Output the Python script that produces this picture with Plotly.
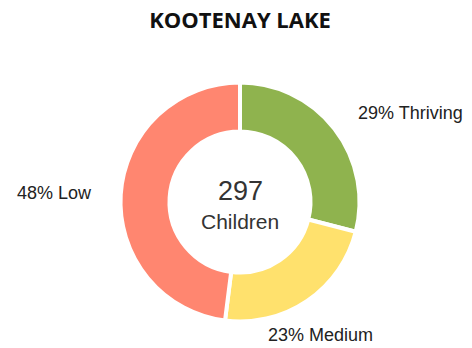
import plotly.graph_objects as go

# Developmental outcome categories for Kootenay Lake
categories = ["Thriving", "Medium", "Low"]
percentages = [29, 23, 48]
colors = ["#8FB34E", "#FFE16D", "#FF8670"]
total_children = 297
title_text = "KOOTENAY LAKE"

# Label anchor points (paper coords) for each slice label
label_pos = {
    "Thriving": (410 / 472, 1 - 113 / 348),
    "Medium": (320 / 472, 1 - 335 / 348),
    "Low": (54 / 472, 1 - 193 / 348),
}

W, H = 472, 348
cx, cy, R = 240, 202, 119.5

fig = go.Figure(
    go.Pie(
        labels=categories,
        values=percentages,
        marker=dict(colors=colors, line=dict(color="white", width=4)),
        hole=0.59,
        sort=False,
        direction="clockwise",
        rotation=0,
        textinfo="none",
        hoverinfo="label+value",
        showlegend=False,
        domain=dict(
            x=[(cx - R) / W, (cx + R) / W],
            y=[1 - (cy + R) / H, 1 - (cy - R) / H],
        ),
    )
)

annotations = []
for cat, pct in zip(categories, percentages):
    x, y = label_pos[cat]
    annotations.append(dict(
        x=x, y=y, xref="paper", yref="paper",
        text=f"{pct}% {cat}", showarrow=False,
        font=dict(family="Liberation Sans, Arial, sans-serif", size=18, color="#222"),
        xanchor="center", yanchor="middle",
    ))

annotations.append(dict(
    x=cx / W, y=1 - 191 / H, xref="paper", yref="paper",
    text=str(total_children), showarrow=False,
    font=dict(family="Liberation Sans, Arial, sans-serif", size=27, color="#333"),
    xanchor="center", yanchor="middle",
))
annotations.append(dict(
    x=cx / W, y=1 - 221 / H, xref="paper", yref="paper",
    text="Children", showarrow=False,
    font=dict(family="Liberation Sans, Arial, sans-serif", size=21, color="#333"),
    xanchor="center", yanchor="middle",
))

fig.update_layout(
    width=W, height=H,
    margin=dict(l=0, r=0, t=0, b=0),
    paper_bgcolor="white",
    plot_bgcolor="white",
    title=dict(
        text=f"<b>{title_text}</b>",
        x=cx / W, xanchor="center",
        y=1 - 20 / H, yanchor="middle",
        font=dict(family="Open Sans, sans-serif", size=22, color="#111"),
    ),
    annotations=annotations,
)

fig.write_html("out.html")
